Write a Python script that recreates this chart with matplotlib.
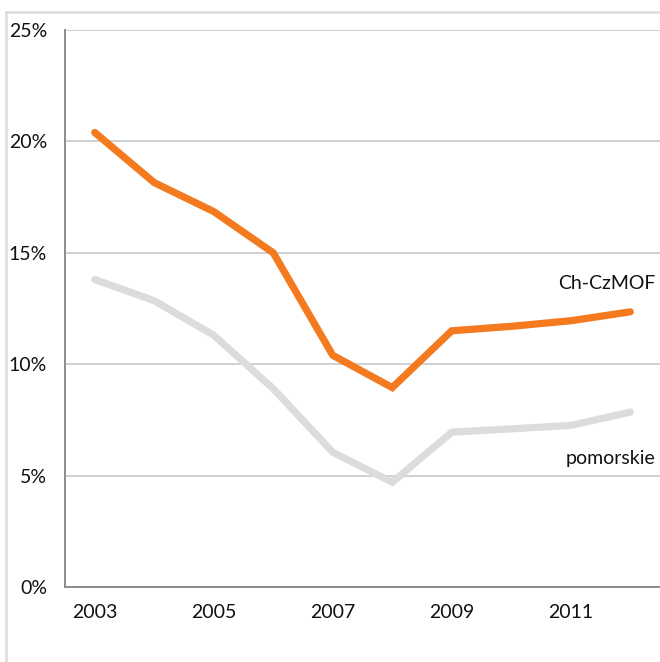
import matplotlib
matplotlib.use('Agg')
import matplotlib.pyplot as plt
from matplotlib.lines import Line2D

# =============================================================================
# DATA
# =============================================================================

years = [2003, 2004, 2005, 2006, 2007, 2008, 2009, 2010, 2011, 2012]
chczmof = [20.4, 18.15, 16.85, 15.0, 10.4, 8.95, 11.5, 11.7, 11.95, 12.35]
pomorskie = [13.8, 12.85, 11.3, 8.9, 6.05, 4.7, 6.95, 7.1, 7.25, 7.85]

xticks = [2003, 2005, 2007, 2009, 2011]
yticks = [0, 5, 10, 15, 20, 25]

# =============================================================================
# PLOT
# =============================================================================

plt.rcParams['font.family'] = ['Lato', 'DejaVu Sans']

fig = plt.figure(figsize=(6.6, 6.62), dpi=100)
ax = fig.add_axes([65/660., 1-587/662., 1-65/660., (587-30)/662.])

ax.plot(years, pomorskie, color='#dcdcdc', lw=5.2, solid_capstyle='round',
        solid_joinstyle='miter', zorder=3)
ax.plot(years, chczmof, color='#f47a20', lw=5.2, solid_capstyle='round',
        solid_joinstyle='miter', zorder=4)

ax.set_xlim(2002.5, 2012.5)
ax.set_ylim(0, 25)
ax.set_xticks(xticks)
ax.set_xticklabels([str(x) for x in xticks])
ax.set_yticks(yticks)
ax.set_yticklabels([str(y)+'%' for y in yticks])
ax.tick_params(length=0, labelsize=14, colors='#111111')
ax.tick_params(axis='y', pad=13)
ax.tick_params(axis='x', pad=12)

ax.grid(axis='y', color='#c8c8c8', lw=1.2, zorder=1)
for s in ['top', 'right']:
    ax.spines[s].set_visible(False)
for s in ['left', 'bottom']:
    ax.spines[s].set_color('#8c8c8c')
    ax.spines[s].set_linewidth(1.4)

ax.text(2012.42, 13.6, 'Ch-CzMOF', ha='right', va='center', fontsize=14, color='#111111')
ax.text(2012.42, 5.75, 'pomorskie', ha='right', va='center', fontsize=14, color='#111111')

# outer frame (partially cropped)
fig.add_artist(Line2D([6/660., 1.0], [1-12/662., 1-12/662.], color='#dddddd', lw=1.8,
                      transform=fig.transFigure))
fig.add_artist(Line2D([6/660., 6/660.], [0.0, 1-12/662.], color='#dddddd', lw=1.8,
                      transform=fig.transFigure))

fig.savefig('out.png', dpi=100)
